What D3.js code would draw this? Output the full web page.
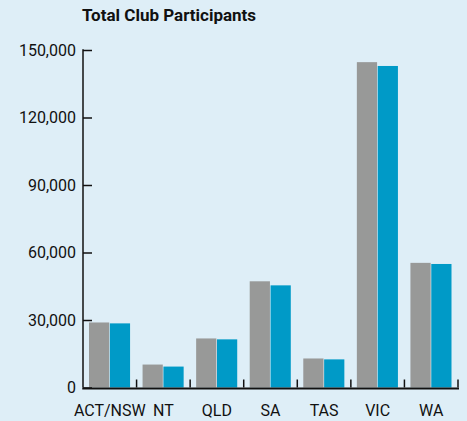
<!DOCTYPE html>
<html>
<head>
<meta charset="utf-8">
<script src="https://cdn.jsdelivr.net/npm/d3@7"></script>
<style>
    body { margin: 0; background: #deeef7; }
    svg { display: block; font-family: Roboto, "DejaVu Sans", sans-serif; }
</style>
</head>
<body>
<div id="chart"></div>
<script>
const states = ["ACT/NSW", "NT", "QLD", "SA", "TAS", "VIC", "WA"];
const seriesA = [28900, 10200, 21800, 47200, 12900, 144600, 55400];
const seriesB = [28500, 9300, 21400, 45400, 12500, 142900, 54900];
const yTicks = [0, 30000, 60000, 90000, 120000, 150000];

const width = 467, height = 421;
const margin = {top: 50, right: 9, bottom: 33, left: 83};

const svg = d3.select('#chart')
    .append('svg')
    .attr('width', width)
    .attr('height', height);

svg.append('rect')
    .attr('width', width)
    .attr('height', height)
    .attr('fill', '#deeef7');

const x = d3.scaleBand()
    .domain(states)
    .range([margin.left, width - margin.right])
    .paddingInner(0)
    .paddingOuter(0);

const y = d3.scaleLinear()
    .domain([0, 150000])
    .range([height - margin.bottom - 0.5, margin.top]);

const sub = d3.scaleBand()
    .domain(["a", "b"])
    .range([6, x.bandwidth() - 6.5])
    .paddingInner(0.03);

// title
svg.append('text')
    .attr('x', 82)
    .attr('y', 21)
    .attr('font-size', 17)
    .attr('font-weight', 'bold')
    .attr('fill', '#111')
    .attr('letter-spacing', 0)
    .text('Total Club Participants');

// bars
const groups = svg.selectAll('.grp')
    .data(states)
    .enter()
    .append('g')
    .attr('class', 'grp')
    .attr('transform', d => `translate(${x(d)},0)`);

groups.append('rect')
    .attr('x', sub('a'))
    .attr('width', sub.bandwidth())
    .attr('y', (d, i) => y(seriesA[i]))
    .attr('height', (d, i) => y(0) - y(seriesA[i]))
    .attr('fill', '#989998');

groups.append('rect')
    .attr('x', sub('b'))
    .attr('width', sub.bandwidth())
    .attr('y', (d, i) => y(seriesB[i]))
    .attr('height', (d, i) => y(0) - y(seriesB[i]))
    .attr('fill', '#009ac7');

// y axis
const yAxis = svg.append('g')
    .attr('transform', `translate(${margin.left},0)`)
    .call(d3.axisRight(y).tickValues(yTicks).tickSize(9).tickFormat(''));
yAxis.select('.domain').remove();
yAxis.selectAll('line').attr('stroke', '#111').attr('stroke-width', 1.5);

svg.append('line')
    .attr('x1', margin.left).attr('x2', margin.left)
    .attr('y1', y(150000) - 0.75).attr('y2', y(0))
    .attr('stroke', '#111').attr('stroke-width', 1.5);

svg.selectAll('.ylab')
    .data(yTicks)
    .enter()
    .append('text')
    .attr('class', 'ylab')
    .attr('x', 76)
    .attr('y', d => y(d) + 5.5)
    .attr('text-anchor', 'end')
    .attr('font-size', 16)
    .attr('fill', '#111')
    .text(d => d3.format(',')(d));

// x axis baseline and ticks
svg.append('line')
    .attr('x1', margin.left - 0.75).attr('x2', width - margin.right + 1)
    .attr('y1', y(0) + 1).attr('y2', y(0) + 1)
    .attr('stroke', '#111').attr('stroke-width', 2);

svg.selectAll('.xtick')
    .data(states)
    .enter()
    .append('line')
    .attr('class', 'xtick')
    .attr('x1', d => x(d) + x.bandwidth())
    .attr('x2', d => x(d) + x.bandwidth())
    .attr('y1', y(0))
    .attr('y2', y(0) - 8)
    .attr('stroke', '#111')
    .attr('stroke-width', 1.5);

svg.selectAll('.xlab')
    .data(states)
    .enter()
    .append('text')
    .attr('class', 'xlab')
    .attr('x', d => x(d) + x.bandwidth() / 2)
    .attr('y', 416)
    .attr('text-anchor', 'middle')
    .attr('font-size', 16)
    .attr('fill', '#111')
    .text(d => d);
</script>
</body>
</html>
